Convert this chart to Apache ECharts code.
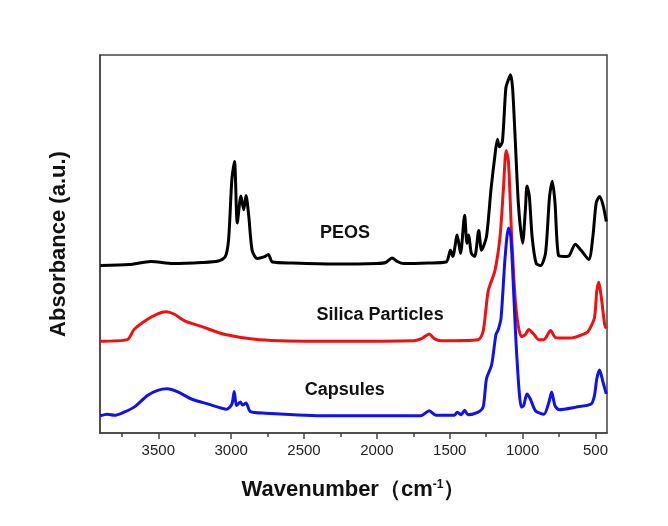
<!DOCTYPE html>
<html>
<head>
<meta charset="utf-8">
<script src="https://cdn.jsdelivr.net/npm/echarts@6/dist/echarts.min.js"></script>
<style>
  html, body { margin: 0; padding: 0; background: #fff; }
  #chart { width: 668px; height: 526px; }
</style>
</head>
<body>
<div id="chart"></div>
<script>
// wavenumber (cm-1) and absorbance (a.u., offset stacked)
var peosWn = [3898, 3700, 3551, 3400, 3200, 3088, 3041, 3018, 2995, 2977, 2958, 2933, 2914, 2898, 2879, 2856, 2822, 2775, 2745, 2717, 2578, 2300, 1999, 1940, 1896, 1860, 1815, 1650, 1525, 1495, 1479, 1449, 1426, 1398, 1382, 1370, 1352, 1329, 1301, 1282, 1248, 1217, 1190, 1173, 1160, 1139, 1115, 1097, 1083, 1069, 1051, 1028, 1000, 981, 970, 954, 935, 907, 877, 843, 815, 796, 778, 754, 715, 680, 639, 599, 546, 518, 495, 472, 449, 426];
var peosAbs = [168, 169, 172, 170, 171, 172.5, 176.5, 193, 253, 270.5, 210, 236.5, 223, 237, 216.5, 183, 175, 176.5, 179, 171.5, 170.5, 169.5, 170, 171, 175.5, 172, 170, 170.5, 171.5, 183, 177, 198, 180, 217.5, 190, 198, 180, 177, 202.5, 183, 196.5, 243, 276.5, 292.5, 285, 290, 343, 351.5, 356, 343, 293, 226.5, 190, 223, 246.5, 236.5, 196.5, 170, 168, 180, 236.5, 251, 230, 178, 177, 178, 189, 183, 174, 196.5, 230, 236, 228, 211.5];

var silicaWn = [3898, 3713, 3666, 3574, 3504, 3447, 3389, 3319, 3204, 3041, 2810, 2347, 1745, 1687, 1641, 1606, 1560, 1305, 1271, 1236, 1190, 1155, 1132, 1113, 1097, 1074, 1046, 1009, 981, 958, 930, 889, 854, 808, 773, 680, 565, 542, 507, 491, 477, 460, 437, 426];
var silicaAbs = [93.5, 95, 105, 115, 120.5, 122.5, 120, 113.5, 108, 100, 95, 93.5, 94, 96.5, 100.5, 96, 94, 95, 103, 143, 163, 196.5, 243, 281.5, 270, 193, 126.5, 98, 100, 105, 101.5, 95, 95, 104, 97, 96.5, 101.5, 105, 116.5, 143, 151.5, 136.5, 110, 106];

var capsWn = [3898, 3850, 3800, 3736, 3666, 3574, 3504, 3440, 3366, 3273, 3157, 3030, 2995, 2979, 2963, 2937, 2921, 2898, 2868, 2764, 2347, 1699, 1641, 1595, 1467, 1449, 1421, 1398, 1375, 1305, 1271, 1248, 1213, 1183, 1167, 1148, 1120, 1097, 1081, 1062, 1039, 1009, 993, 970, 947, 912, 854, 819, 801, 778, 750, 634, 530, 507, 491, 472, 449, 426];
var capsAbs = [20, 21.5, 20.5, 23.5, 28.5, 40, 45, 46.5, 43.5, 36.5, 31.5, 26.5, 31.5, 44, 30, 33.5, 30.5, 32.5, 24, 22.5, 20, 20, 25, 20.5, 20.5, 23.5, 21, 25.5, 21, 23.5, 28.5, 56.5, 70, 100, 105, 116.5, 176.5, 205, 196.5, 143, 76.5, 28.5, 30, 41.5, 36.5, 25, 21.5, 33.5, 43.5, 30, 26, 28.5, 31.5, 40, 56.5, 65, 53.5, 41.5];

var majorTicks = [3500, 3000, 2500, 2000, 1500, 1000, 500];
var minorTicks = [3750, 3250, 2750, 2250, 1750, 1250, 750];

var seriesNames = ['PEOS', 'Silica Particles', 'Capsules'];
var seriesColors = ['#000000', '#ee1111', '#1111ee'];
var labelPos = [[2218, 200.5], [1978, 119.5], [2220, 45]];

function pairs(xs, ys) {
    var out = [];
    for (var i = 0; i < xs.length; i++) out.push([xs[i], ys[i]]);
    return out;
}

var allData = [pairs(peosWn, peosAbs), pairs(silicaWn, silicaAbs), pairs(capsWn, capsAbs)];
var font = 'Arial, "Liberation Sans", sans-serif';

var series = seriesNames.map(function(name, i) {
    return {
        name: name,
        type: 'line',
        data: allData[i],
        showSymbol: false,
        smooth: 0.25,
        lineStyle: { color: seriesColors[i], width: 3 },
        itemStyle: { color: seriesColors[i] },
        animation: false,
        markPoint: {
            symbol: 'circle',
            symbolSize: 0,
            silent: true,
            label: {
                show: true,
                position: 'inside',
                formatter: name,
                fontFamily: font,
                fontWeight: 'bold',
                fontSize: 18,
                color: '#111'
            },
            data: [{ coord: labelPos[i] }]
        }
    };
});

var chart = echarts.init(document.getElementById('chart'));
chart.setOption({
    backgroundColor: '#ffffff',
    grid: {
        left: 100, right: 61, top: 55, bottom: 93,
        show: true, borderColor: '#444', borderWidth: 1.5, backgroundColor: 'transparent'
    },
    xAxis: [{
        type: 'value',
        inverse: true,
        min: 421,
        max: 3900,
        name: '{a|Wavenumber（cm}{s|-1}{a|）}',
        nameLocation: 'middle',
        nameGap: 46,
        nameTextStyle: {
            rich: {
                a: { fontFamily: font, fontWeight: 'bold', fontSize: 22, color: '#111' },
                s: { fontFamily: font, fontWeight: 'bold', fontSize: 12, color: '#111', verticalAlign: 'top', padding: [0, 0, 10, 0] }
            }
        },
        axisLine: { show: true, lineStyle: { color: '#444', width: 1.5 } },
        axisTick: { show: true, length: 6, lineStyle: { color: '#444', width: 1.5 }, customValues: majorTicks },
        axisLabel: {
            fontFamily: font, fontSize: 15, color: '#222', margin: 10, customValues: majorTicks,
            formatter: function(v) { return String(v); }
        },
        splitLine: { show: false }
    }, {
        type: 'value',
        inverse: true,
        min: 421,
        max: 3900,
        position: 'bottom',
        axisLine: { show: false },
        axisTick: { show: true, length: 4, lineStyle: { color: '#444', width: 1.5 }, customValues: minorTicks },
        axisLabel: { show: false, customValues: minorTicks },
        splitLine: { show: false }
    }],
    yAxis: {
        type: 'value',
        min: 3,
        max: 375.5,
        name: 'Absorbance (a.u.)',
        nameLocation: 'middle',
        nameGap: 30,
        nameTextStyle: { fontFamily: font, fontWeight: 'bold', fontSize: 22, color: '#111' },
        axisLine: { show: true, lineStyle: { color: '#444', width: 1.5 } },
        axisTick: { show: false },
        axisLabel: { show: false },
        splitLine: { show: false }
    },
    series: series
});
</script>
</body>
</html>
